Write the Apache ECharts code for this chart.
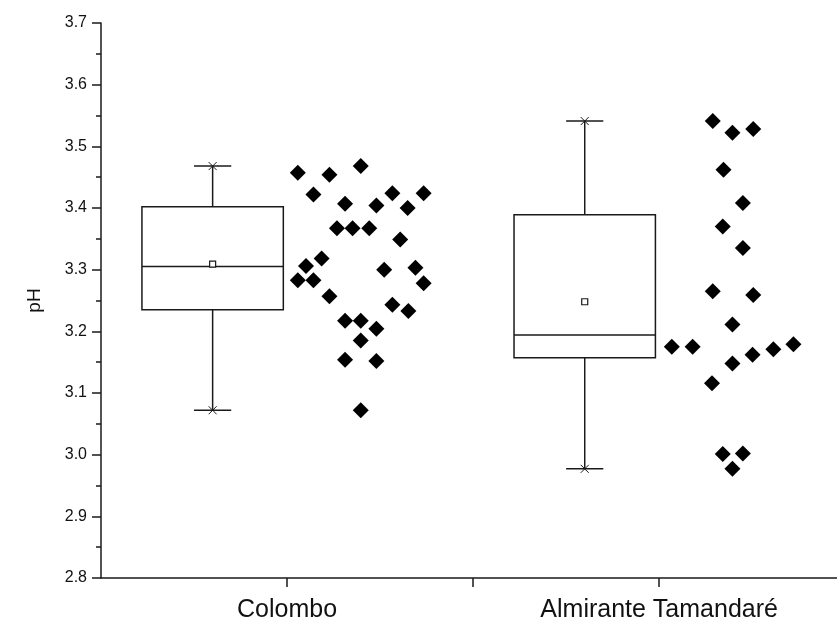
<!DOCTYPE html>
<html>
<head>
<meta charset="utf-8">
<script src="https://cdn.jsdelivr.net/npm/echarts@6/dist/echarts.min.js"></script>
<style>html,body{margin:0;padding:0;background:#fff}#c{width:837px;height:625px}</style>
</head>
<body>
<div id="c"></div>
<script>
// ---- data ----
const categories = ['Colombo', 'Almirante Tamandaré'];
const categoryPos = [1, 2];
// box statistics
const boxX = [0.8, 1.8];
const whiskerLow = [3.072, 2.977];
const q1 = [3.235, 3.157];
const median = [3.305, 3.194];
const q3 = [3.402, 3.389];
const whiskerHigh = [3.468, 3.541];
const meanVal = [3.309, 3.248];

const colomboPH = [3.457, 3.454, 3.468, 3.422, 3.407, 3.404, 3.424, 3.400, 3.424, 3.367,
  3.367, 3.367, 3.349, 3.318, 3.306, 3.283, 3.283, 3.300, 3.303, 3.278,
  3.257, 3.243, 3.233, 3.217, 3.217, 3.204, 3.185, 3.154, 3.152, 3.072];
const colomboX = [1.029, 1.114, 1.198, 1.071, 1.156, 1.240, 1.283, 1.324, 1.367, 1.134,
  1.176, 1.221, 1.304, 1.093, 1.051, 1.029, 1.071, 1.261, 1.345, 1.367,
  1.114, 1.283, 1.326, 1.156, 1.198, 1.240, 1.198, 1.156, 1.240, 1.198];
const almirantePH = [3.541, 3.522, 3.528, 3.462, 3.408, 3.370, 3.335, 3.265, 3.259, 3.211,
  3.175, 3.175, 3.179, 3.171, 3.162, 3.148, 3.116, 3.001, 3.002, 2.977];
const almiranteX = [2.144, 2.197, 2.253, 2.173, 2.225, 2.171, 2.225, 2.144, 2.253, 2.197,
  2.034, 2.090, 2.361, 2.307, 2.251, 2.197, 2.142, 2.171, 2.225, 2.197];
const yTicks = {min: 2.8, max: 3.7, step: 0.1};
const xTicks = [1, 1.5, 2];

// ---- build ----
const boxData = boxX.map((x, i) => [x, whiskerLow[i], q1[i], median[i], q3[i], whiskerHigh[i], meanVal[i]]);
const scatterData = colomboPH.map((v, i) => [colomboX[i], v])
  .concat(almirantePH.map((v, i) => [almiranteX[i], v]));

const LINE = '#1a1a1a';
const FONT = 'Liberation Sans, Arial, sans-serif';
const BOX_W = 0.38, CAP_W = 0.1;

function renderBox(params, api) {
  const x = api.value(0);
  const yv = v => api.coord([x, v])[1];
  const cx = api.coord([x, api.value(3)])[0];
  const hw = api.size([BOX_W, 0])[0] / 2;
  const cw = api.size([CAP_W, 0])[0] / 2;
  const lo = yv(api.value(1)), b1 = yv(api.value(2)), md = yv(api.value(3)),
        b3 = yv(api.value(4)), hi = yv(api.value(5)), mn = yv(api.value(6));
  const xs = 4;
  const line = (x1, y1, x2, y2, w) => ({type: 'line', shape: {x1, y1, x2, y2}, style: {stroke: LINE, lineWidth: w || 1.5}});
  return {
    type: 'group',
    children: [
      {type: 'rect', shape: {x: cx - hw, y: b3, width: 2 * hw, height: b1 - b3}, style: {stroke: LINE, lineWidth: 1.5, fill: '#fff'}},
      line(cx - hw, md, cx + hw, md),
      line(cx, b3, cx, hi),
      line(cx, b1, cx, lo),
      line(cx - cw, hi, cx + cw, hi),
      line(cx - cw, lo, cx + cw, lo),
      line(cx - xs, hi - xs, cx + xs, hi + xs, 1),
      line(cx - xs, hi + xs, cx + xs, hi - xs, 1),
      line(cx - xs, lo - xs, cx + xs, lo + xs, 1),
      line(cx - xs, lo + xs, cx + xs, lo - xs, 1),
      {type: 'rect', shape: {x: cx - 3, y: mn - 3, width: 6, height: 6}, style: {stroke: LINE, lineWidth: 1.2, fill: '#fff'}}
    ]
  };
}

const chart = echarts.init(document.getElementById('c'));
chart.setOption({
  animation: false,
  backgroundColor: '#fff',
  grid: {left: 101, right: 0, top: 23, bottom: 47},
  xAxis: {
    type: 'value', min: 0.5, max: 2.478,
    splitLine: {show: false},
    axisLine: {lineStyle: {color: LINE, width: 1.5}},
    axisTick: {show: true, length: 9, customValues: xTicks, lineStyle: {color: LINE, width: 1.5}},
    axisLabel: {
      customValues: categoryPos, margin: 20,
      formatter: v => categories[categoryPos.indexOf(v)] || '',
      fontFamily: FONT, fontSize: 25, color: '#111'
    }
  },
  yAxis: {
    type: 'value', min: yTicks.min, max: yTicks.max, interval: yTicks.step,
    name: 'pH', nameLocation: 'middle', nameGap: 57,
    nameTextStyle: {fontFamily: FONT, fontSize: 19, color: '#111'},
    splitLine: {show: false},
    axisLine: {show: true, lineStyle: {color: LINE, width: 1.5}},
    axisTick: {show: true, length: 9, lineStyle: {color: LINE, width: 1.5}},
    minorTick: {show: true, splitNumber: 2, length: 5, lineStyle: {color: LINE, width: 1.5}},
    axisLabel: {
      margin: 14, formatter: v => v.toFixed(1),
      fontFamily: FONT, fontSize: 16, color: '#111'
    }
  },
  series: [
    {
      type: 'custom', renderItem: renderBox, data: boxData,
      encode: {x: 0, y: [1, 2, 3, 4, 5]}, z: 2, silent: true
    },
    {
      type: 'scatter', data: scatterData, symbol: 'diamond', symbolSize: [16, 16],
      itemStyle: {color: '#000', opacity: 1}, z: 3, silent: true
    }
  ]
});
</script>
</body>
</html>
